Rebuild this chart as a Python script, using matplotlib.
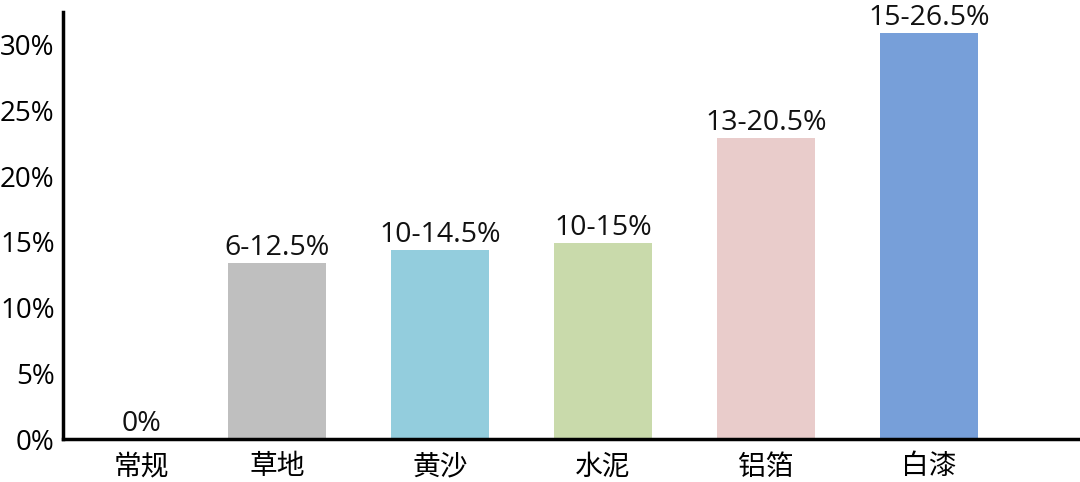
import matplotlib
matplotlib.use("Agg")
import matplotlib.pyplot as plt
import matplotlib.transforms as mtransforms

plt.rcParams['font.family'] = ['Open Sans', 'Noto Sans CJK SC', 'DejaVu Sans']

categories = ['常规', '草地', '黄沙', '水泥', '铝箔', '白漆']
values = [0, 13.4, 14.4, 14.9, 22.9, 30.9]
labels = ['0%', '6-12.5%', '10-14.5%', '10-15%', '13-20.5%', '15-26.5%']
colors = ['#BFBFBF', '#BFBFBF', '#93CDDD', '#C9DAAB', '#E9CCCB', '#779FD9']
yticks = [0, 5, 10, 15, 20, 25, 30]

fig = plt.figure(figsize=(10.8, 4.82), dpi=100)
ax = fig.add_axes([63/1080, (482-439)/482, 1 - 63/1080, (439-12)/482])

x = list(range(len(categories)))
bars = ax.bar(x, values, width=0.6, color=colors, zorder=2)

ax.set_xlim(-0.313, 5.926)
ax.set_ylim(0, 32.5)
ax.set_yticks(yticks)
ax.set_yticklabels([f'{t}%' for t in yticks], fontsize=20)
ax.set_xticks(x)
ax.set_xticklabels(categories, fontsize=20, family=['Noto Sans CJK SC', 'DejaVu Sans'])
ax.tick_params(axis='y', length=0, pad=6)
ax.tick_params(axis='x', length=0, pad=9)

for s in ['top', 'right']:
    ax.spines[s].set_visible(False)
for s in ['left', 'bottom']:
    ax.spines[s].set_linewidth(2.5)
    ax.spines[s].set_color('black')

# first category label sits slightly right of the slot centre in the reference
shift = mtransforms.ScaledTranslation(27/100, 0, fig.dpi_scale_trans)
first = ax.get_xticklabels()[0]
first.set_transform(first.get_transform() + shift)

for i, (b, lab) in enumerate(zip(bars, labels)):
    tx = b.get_x() + b.get_width() / 2
    ax.annotate(lab, (tx, b.get_height()), xytext=(27 if i == 0 else 0, 1),
                textcoords='offset pixels',
                ha='center', va='bottom', fontsize=20.5, color='#111111')

fig.savefig('out.png', dpi=100)
